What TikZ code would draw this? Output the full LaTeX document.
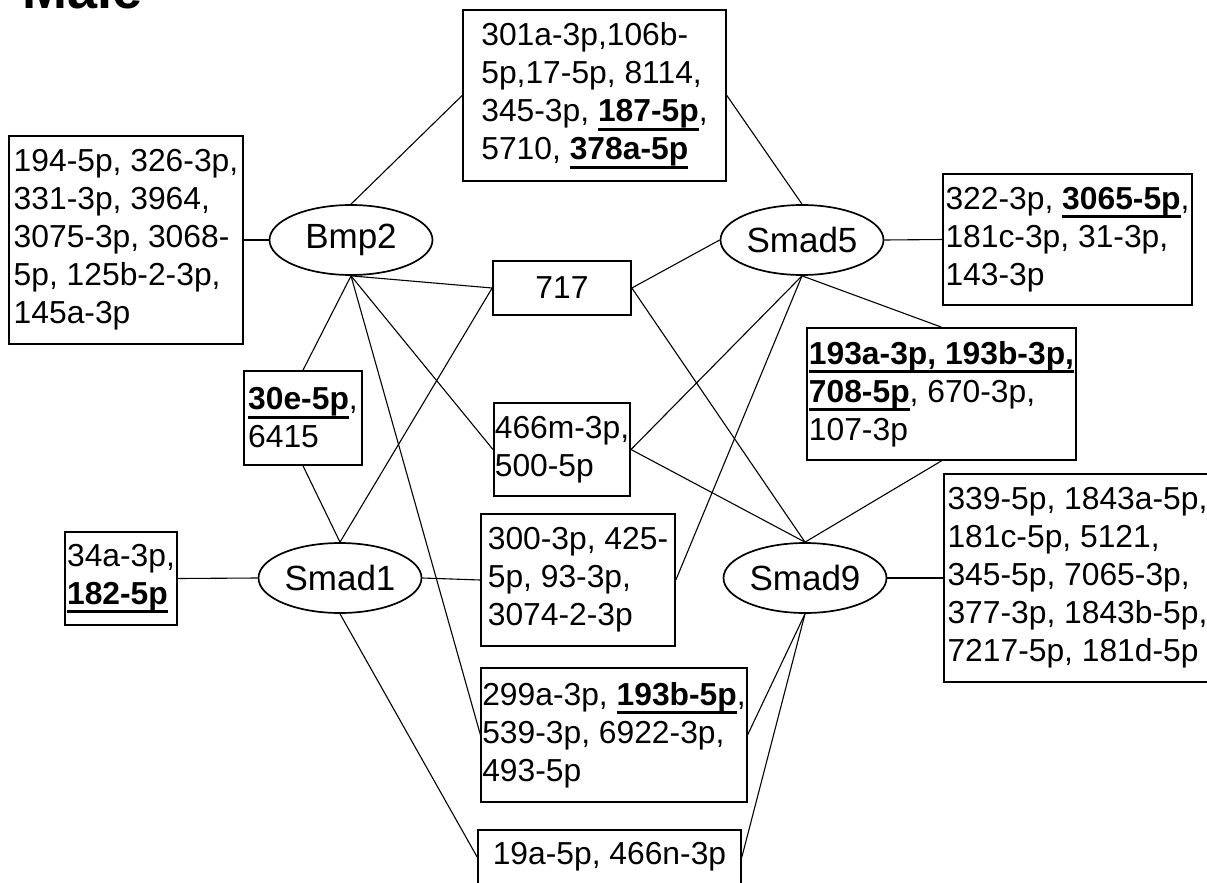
\documentclass[tikz,border=0pt]{standalone}
\usepackage{fontspec}
\setmainfont{Liberation Sans}
\usetikzlibrary{shapes.geometric,positioning}
\newcommand{\keymir}[1]{\setbox0\hbox{\textbf{#1}}\rlap{\vrule height -6pt depth 9pt width \wd0}\box0}

\begin{document}
\begin{tikzpicture}[x=1pt,y=-1pt,on grid,
		gene/.style={ellipse,draw,line width=1.7pt,minimum width=163pt,minimum height=70pt,inner sep=0pt,font=\fontsize{35}{40}\selectfont},
		mirs/.style={rectangle,draw,line width=1.7pt,align=left,inner sep=1pt},
		link/.style={line width=1.1pt},
		font=\fontsize{31.8}{38}\selectfont]
		\useasboundingbox (0,0) rectangle (1207,883);
		\clip (0,0) rectangle (1207,883);
		\node[anchor=base west,inner sep=0pt,font=\fontsize{54}{60}\selectfont\bfseries] (title) at (22,9) {Male};
		% genes
		\node[gene] (bmp) at (351,240) {Bmp2};
		\node[gene] (smad5) [right=451pt of bmp] {Smad5};
		\node[gene] (smad1) at (340,578) {Smad1};
		\node[gene] (smad9) [right=465pt of smad1] {Smad9};
		% miRNA boxes
		\node[mirs,minimum width=234pt,minimum height=208pt] (lbox) at (126,240) {194-5p, 326-3p,\\331-3p, 3964,\\3075-3p, 3068-\\5p, 125b-2-3p,\\145a-3p};
		\node[mirs,minimum width=263pt,minimum height=171pt] (tbox) at (594.5,95.5) {301a-3p,106b-\\5p,17-5p, 8114,\\345-3p, \keymir{187-5p},\\5710, \keymir{378a-5p}};
		\node[mirs,minimum width=138pt,minimum height=54pt,align=center] (m717) at (562,288) {717};
		\node[mirs,minimum width=249pt,minimum height=131pt] (r5box) at (1067.5,239.5) {322-3p, \keymir{3065-5p},\\181c-3p, 31-3p,\\143-3p};
		\node[mirs,minimum width=269pt,minimum height=132pt] (m193) at (941.5,394) {\keymir{193a-3p, 193b-3p,}\\\keymir{708-5p}, 670-3p,\\107-3p};
		\node[mirs,minimum width=118pt,minimum height=94pt] (m30e) at (303,418) {\keymir{30e-5p},\\6415};
		\node[mirs,minimum width=136pt,minimum height=93pt] (m466) at (562,449.5) {466m-3p,\\500-5p};
		\node[mirs,minimum width=112pt,minimum height=93pt] (m34a) at (121,578.5) {34a-3p,\\\keymir{182-5p}};
		\node[mirs,minimum width=194pt,minimum height=132pt] (m300) at (578,580) {300-3p, 425-\\5p, 93-3p,\\3074-2-3p};
		\node[mirs,minimum width=267pt,minimum height=208pt] (r9box) at (1077.5,578) {339-5p, 1843a-5p,\\181c-5p, 5121,\\345-5p, 7065-3p,\\377-3p, 1843b-5p,\\7217-5p, 181d-5p};
		\node[mirs,minimum width=264pt,minimum height=134pt] (m299) at (614,735) {299a-3p, \keymir{193b-5p},\\539-3p, 6922-3p,\\493-5p};
		\node[mirs,minimum width=263pt,minimum height=54pt,align=center] (m19a) at (609.5,857) {19a-5p, 466n-3p};
		% links
		\path[link]
			(bmp.west) edge (lbox.east)
			(bmp.north) edge (tbox.west)
			(bmp.south) edge (m717.west)
			(bmp.south) edge (m30e.north)
			(bmp.south) edge (m466.west)
			(bmp.south) edge (m299.west)
			(tbox.east) edge (smad5.north)
			(smad5.east) edge (r5box.west)
			(m717.east) edge (smad5.west)
			(m717.east) edge (smad9.north)
			(smad5.south) edge (m193.north)
			(smad5.south) edge (m466.east)
			(smad5.south) edge (m300.east)
			(smad1.north) edge (m30e.south)
			(smad1.north) edge (m717.west)
			(smad1.west) edge (m34a.east)
			(smad1.east) edge (m300.west)
			(smad1.south) edge (m19a.west)
			(m466.east) edge (smad9.north)
			(m193.south) edge (smad9.north)
			(smad9.east) edge (r9box.west)
			(smad9.south) edge (m299.east)
			(smad9.south) edge (m19a.east);
	\end{tikzpicture}
\end{document}
